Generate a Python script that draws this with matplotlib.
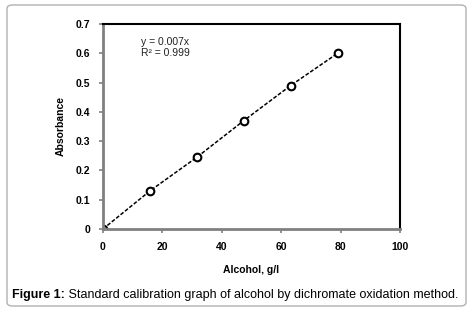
import matplotlib.pyplot as plt
from matplotlib.patches import FancyBboxPatch

alcohol = [0, 15.8, 31.6, 47.4, 63.2, 79]
absorbance = [0, 0.13, 0.245, 0.37, 0.49, 0.6]
x_ticks = [0, 20, 40, 60, 80, 100]
y_ticks = [0, 0.1, 0.2, 0.3, 0.4, 0.5, 0.6, 0.7]
y_tick_labels = ['0', '0.1', '0.2', '0.3', '0.4', '0.5', '0.6', '0.7']

plt.rcParams['font.family'] = ['Liberation Sans', 'DejaVu Sans']

fig = plt.figure(figsize=(4.71, 3.11), dpi=100)

# rounded frame around the whole figure
frame = FancyBboxPatch((7 / 471, 5 / 311), 459 / 471, 301 / 311,
                       boxstyle='round,pad=0,rounding_size=0.012',
                       transform=fig.transFigure, fill=False,
                       edgecolor='#b0b0b0', linewidth=1)
fig.patches.append(frame)

ax = fig.add_axes([103 / 471, 1 - 229 / 311, 297 / 471, 205 / 311])

ax.plot(alcohol, absorbance, linestyle=(0, (2.5, 1.2)), color='black', linewidth=1.1,
        marker='o', markersize=5.5, markerfacecolor='white', markeredgecolor='black',
        markeredgewidth=1.5)

ax.set_xlim(0, 100)
ax.set_ylim(0, 0.7)
ax.set_xticks(x_ticks)
ax.set_yticks(y_ticks)
ax.set_yticklabels(y_tick_labels)

for side in ['top', 'right']:
    ax.spines[side].set_color('black')
    ax.spines[side].set_linewidth(1.5)
for side in ['left', 'bottom']:
    ax.spines[side].set_color('#808080')
    ax.spines[side].set_linewidth(2)

ax.tick_params(axis='both', direction='out', length=3, width=1.2, color='#808080',
               labelsize=7.5, pad=6)
for lbl in ax.get_xticklabels() + ax.get_yticklabels():
    lbl.set_fontweight('bold')
ax.tick_params(axis='x', pad=6)

ax.set_xlabel('Alcohol, g/l', fontsize=7.5, fontweight='bold', labelpad=10)
ax.set_ylabel('Absorbance', fontsize=7.5, fontweight='bold', labelpad=7)

ax.text(12.8, 0.62, 'y = 0.007x\nR² = 0.999', fontsize=7.5, color='#222222',
        linespacing=1.05, va='center')

# caption: bold label followed by normal text, sized to fit the frame
cap_y = 1 - 295 / 311
size = 10
t1 = fig.text(12 / 471, cap_y, 'Figure 1:', fontsize=size, fontweight='bold', va='center')
t2 = fig.text(0, cap_y, ' Standard calibration graph of alcohol by dichromate oxidation method.',
              fontsize=size, va='center')
r = fig.canvas.get_renderer()
total = t1.get_window_extent(r).width + t2.get_window_extent(r).width
size = size * 447 / total
t1.set_fontsize(size)
t2.set_fontsize(size)
w1 = t1.get_window_extent(r).width
t2.set_x((12 + w1) / 471)

fig.savefig('out.png', dpi=100)
